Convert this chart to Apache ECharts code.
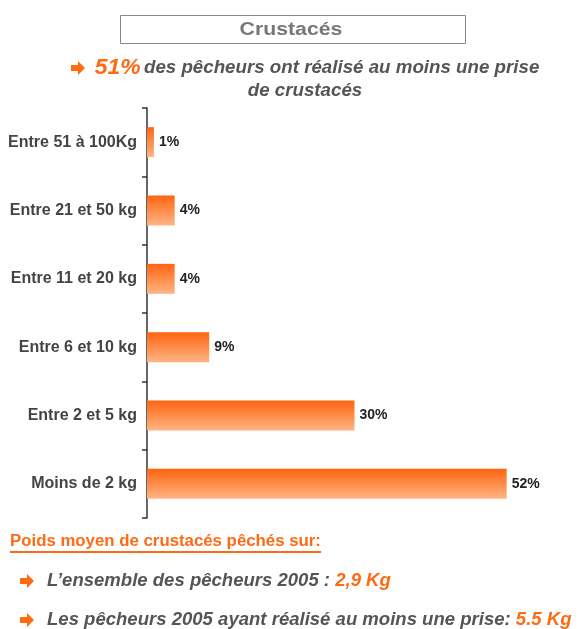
<!DOCTYPE html>
<html>
<head>
<meta charset="utf-8">
<script src="https://cdn.jsdelivr.net/npm/echarts@6/dist/echarts.min.js"></script>
<style>
  html, body { margin: 0; padding: 0; background: #fff; }
  #root { width: 580px; height: 629px; }
</style>
</head>
<body>
<div id="root"></div>
<script>
// categories top to bottom
var categories = ['Entre 51 à 100Kg', 'Entre 21 et 50 kg', 'Entre 11 et 20 kg', 'Entre 6 et 10 kg', 'Entre 2 et 5 kg', 'Moins de 2 kg']
var shares = [1, 4, 4, 9, 30, 52]

var FONT = '"Liberation Sans", Arial, sans-serif'
var ORANGE = '#ff6a13'
var GREY = '#555'

// small block arrow used as bullet
function arrow(x, y) {
  return {
    type: 'polygon',
    x: x, y: y,
    shape: { points: [[0, -3], [7, -3], [7, -7], [14, 0], [7, 7], [7, 3], [0, 3]] },
    style: { fill: ORANGE }
  }
}

var chart = echarts.init(document.getElementById('root'))

var option = {
  animation: false,
  grid: { left: 147, right: 18, top: 108, bottom: 111 },
  xAxis: { type: 'value', min: 0, max: 60, show: false },
  yAxis: {
    type: 'category',
    data: categories,
    inverse: true,
    axisLine: { show: true, lineStyle: { color: '#333', width: 1.5 } },
    axisTick: { show: true, inside: false, length: 5, lineStyle: { color: '#333', width: 1.5 } },
    axisLabel: { color: '#444', fontSize: 16, fontWeight: 'bold', fontFamily: FONT, margin: 10 }
  },
  series: [{
    type: 'bar',
    data: shares,
    barWidth: 30,
    itemStyle: {
      color: new echarts.graphic.LinearGradient(0, 0, 0, 1, [
        { offset: 0, color: '#ff6410' },
        { offset: 1, color: '#ffb585' }
      ])
    },
    label: {
      show: true,
      position: 'right',
      distance: 5,
      formatter: '{c}%',
      color: '#222',
      fontWeight: 'bold',
      fontSize: 14,
      fontFamily: FONT
    }
  }],
  graphic: [
    // title box
    {
      type: 'rect',
      shape: { x: 120.5, y: 15.5, width: 345, height: 28 },
      style: { fill: '#fff', stroke: '#888', lineWidth: 1 }
    },
    {
      type: 'text',
      x: 291, y: 30, scaleX: 1.12,
      style: {
        text: 'Crustacés', fill: '#777', font: 'bold 19px ' + FONT,
        align: 'center', verticalAlign: 'middle'
      }
    },
    // subtitle
    arrow(71, 68),
    {
      type: 'text',
      x: 317, y: 68, scaleX: 1.04,
      style: {
        text: '{b|51%} {c|des pêcheurs ont réalisé au moins une prise}',
        align: 'center', verticalAlign: 'middle',
        rich: {
          b: { fill: ORANGE, font: 'italic bold 22px ' + FONT },
          c: { fill: GREY, font: 'italic bold 18px ' + FONT }
        }
      }
    },
    {
      type: 'text',
      x: 305, y: 91, scaleX: 1.04,
      style: {
        text: 'de crustacés', fill: GREY, font: 'italic bold 18px ' + FONT,
        align: 'center', verticalAlign: 'middle'
      }
    },
    // footer
    {
      type: 'text',
      x: 10, y: 542, scaleX: 1.05,
      style: {
        text: 'Poids moyen de crustacés pêchés sur:', fill: ORANGE,
        font: 'bold 16px ' + FONT, verticalAlign: 'middle'
      }
    },
    {
      type: 'line',
      shape: { x1: 10, y1: 552, x2: 321, y2: 552 },
      style: { stroke: ORANGE, lineWidth: 2 }
    },
    arrow(20, 581),
    {
      type: 'text',
      x: 47, y: 581, scaleX: 1.03,
      style: {
        text: '{c|L’ensemble des pêcheurs 2005 : }{b|2,9 Kg}',
        verticalAlign: 'middle',
        rich: {
          b: { fill: ORANGE, font: 'italic bold 18px ' + FONT },
          c: { fill: GREY, font: 'italic bold 18px ' + FONT }
        }
      }
    },
    arrow(20, 620),
    {
      type: 'text',
      x: 47, y: 620, scaleX: 1.03,
      style: {
        text: '{c|Les pêcheurs 2005 ayant réalisé au moins une prise: }{b|5.5 Kg}',
        verticalAlign: 'middle',
        rich: {
          b: { fill: ORANGE, font: 'italic bold 18px ' + FONT },
          c: { fill: GREY, font: 'italic bold 18px ' + FONT }
        }
      }
    }
  ]
}

chart.setOption(option)
</script>
</body>
</html>
